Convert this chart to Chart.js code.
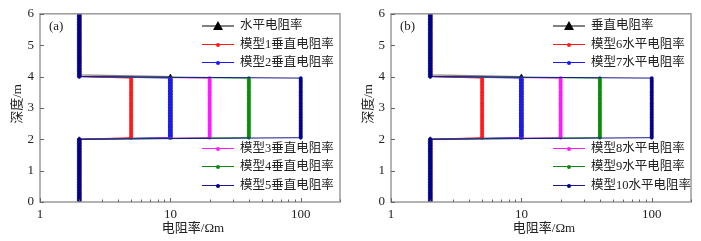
<!DOCTYPE html>
<html>
<head>
<meta charset="utf-8">
<script src="https://cdn.jsdelivr.net/npm/chart.js@4.4.1/dist/chart.umd.min.js"></script>
<style>
    body { margin: 0; background: #fff; }
    #wrap { position: relative; width: 701px; height: 241px; overflow: hidden; background: #fff; }
    .panel { position: absolute; top: 0; width: 350px; height: 241px; }
    .panel canvas { position: absolute; left: 0; top: 0; }
    .txt { position: absolute; font-family: "Liberation Serif", "Noto Sans CJK SC", serif; color: #222; white-space: nowrap; line-height: 1; }
    .leg { position: absolute; height: 14px; }
    .leg .ln { position: absolute; left: 0; top: 7px; width: 32px; height: 0; }
    .leg .mk { position: absolute; }
    .leg .lt { position: absolute; left: 38px; top: 0; font-size: 12.5px; }
</style>
</head>
<body>
<div id="wrap">
    <div class="panel" id="pa"><canvas id="chartA" width="350" height="241"></canvas></div>
    <div class="panel" id="pb" style="left:351px"><canvas id="chartB" width="350" height="241"></canvas></div>
</div>
<script>
// depth samples of the layered profiles (m)
const depths = [
    0, 0.05, 0.1, 0.15, 0.2, 0.25, 0.3, 0.35, 0.4, 0.45, 0.5, 0.55, 0.6, 0.65, 0.7, 0.75, 0.8, 0.85, 0.9, 0.95,
    1, 1.05, 1.1, 1.15, 1.2, 1.25, 1.3, 1.35, 1.4, 1.45, 1.5, 1.55, 1.6, 1.65, 1.7, 1.75, 1.8, 1.85, 1.9, 1.95,
    2, 2.05, 2.1, 2.15, 2.2, 2.25, 2.3, 2.35, 2.4, 2.45, 2.5, 2.55, 2.6, 2.65, 2.7, 2.75, 2.8, 2.85, 2.9, 2.95,
    3, 3.05, 3.1, 3.15, 3.2, 3.25, 3.3, 3.35, 3.4, 3.45, 3.5, 3.55, 3.6, 3.65, 3.7, 3.75, 3.8, 3.85, 3.9, 3.95,
    4, 4.05, 4.1, 4.15, 4.2, 4.25, 4.3, 4.35, 4.4, 4.45, 4.5, 4.55, 4.6, 4.65, 4.7, 4.75, 4.8, 4.85, 4.9, 4.95,
    5, 5.05, 5.1, 5.15, 5.2, 5.25, 5.3, 5.35, 5.4, 5.45, 5.5, 5.55, 5.6, 5.65, 5.7, 5.75, 5.8, 5.85, 5.9, 5.95, 6
];
const hostRes = 2;                       // resistivity above and below the middle layer
const refRes = 10;                       // reference curve, middle layer
const modelRes = [5, 10, 20, 40, 100];   // models, middle layer
const refMid = [2.05, 4.0];              // middle layer extent, reference curve
const modelMid = [2.05, 3.95];           // middle layer extent, models
const xTicks = [1, 10, 100];
const xMinor = [2, 3, 4, 5, 6, 7, 8, 9, 20, 30, 40, 50, 60, 70, 80, 90, 200];
const yTicks = [0, 1, 2, 3, 4, 5, 6];
const labelsA = ["水平电阻率", "模型1垂直电阻率", "模型2垂直电阻率", "模型3垂直电阻率", "模型4垂直电阻率", "模型5垂直电阻率"];
const labelsB = ["垂直电阻率", "模型6水平电阻率", "模型7水平电阻率", "模型8水平电阻率", "模型9水平电阻率", "模型10水平电阻率"];
const colors = ["#808080", "#ff1a1a", "#1a1aff", "#ff1aff", "#0d8a0d", "#1a1a8b"];
const markColors = ["#000000", "#ff1a1a", "#1a1aff", "#ff1aff", "#0d8a0d", "#00008b"];

function profile(res, mid) {
    return depths.map(d => ({ x: (d >= mid[0] - 1e-9 && d <= mid[1] + 1e-9) ? res : hostRes, y: d }));
}

const framePlugin = {
    id: "frame",
    afterDraw(chart) {
        let ctx = chart.ctx;
        let a = chart.chartArea;
        let xs = chart.scales.x, ys = chart.scales.y;
        ctx.save();
        ctx.strokeStyle = "#9a9a9a";
        ctx.lineWidth = 1.5;
        ctx.strokeRect(a.left, a.top, a.right - a.left, a.bottom - a.top);
        ctx.strokeStyle = "#666";
        ctx.lineWidth = 1;
        ctx.beginPath();
        yTicks.forEach(v => {
            let p = Math.round(ys.getPixelForValue(v)) + 0.5;
            ctx.moveTo(a.left, p); ctx.lineTo(a.left + 4, p);
        });
        xTicks.forEach(v => {
            let p = Math.round(xs.getPixelForValue(v)) + 0.5;
            ctx.moveTo(p, a.bottom); ctx.lineTo(p, a.bottom - 4);
        });
        xMinor.forEach(v => {
            let p = Math.round(xs.getPixelForValue(v)) + 0.5;
            ctx.moveTo(p, a.bottom); ctx.lineTo(p, a.bottom - 2.5);
        });
        ctx.stroke();
        ctx.restore();
    }
};

function makeChart(id) {
    let datasets = [{
        data: profile(refRes, refMid),
        borderColor: colors[0],
        borderWidth: 1.2,
        pointStyle: "triangle",
        pointRadius: 2.6,
        pointBackgroundColor: "#000",
        pointBorderColor: "#000",
        pointBorderWidth: 0.5,
        order: 6
    }];
    modelRes.forEach((r, i) => {
        datasets.push({
            data: profile(r, modelMid),
            borderColor: colors[i + 1],
            borderWidth: 1,
            pointRadius: 1.7,
            pointBackgroundColor: markColors[i + 1],
            pointBorderColor: markColors[i + 1],
            pointBorderWidth: 0.4,
            order: 5 - i
        });
    });
    let tickFont = { family: "Liberation Serif", size: 13 };
    return new Chart(document.getElementById(id), {
        type: "scatter",
        data: { datasets: datasets },
        options: {
            responsive: false,
            animation: false,
            showLine: true,
            devicePixelRatio: 1,
            layout: { padding: { left: 0, right: 10, top: 12, bottom: 0 } },
            plugins: { legend: { display: false }, tooltip: { enabled: false } },
            scales: {
                x: {
                    type: "logarithmic", min: 1, max: 200,
                    afterBuildTicks: s => { s.ticks = xTicks.map(v => ({ value: v })); },
                    afterFit: s => { s.height = 39; },
                    ticks: { font: tickFont, color: "#222", padding: 5, autoSkip: false, maxRotation: 0, callback: v => String(v) },
                    grid: { display: false, drawTicks: false },
                    border: { display: false }
                },
                y: {
                    type: "linear", min: 0, max: 6,
                    afterBuildTicks: s => { s.ticks = yTicks.map(v => ({ value: v })); },
                    afterFit: s => { s.width = 40; },
                    ticks: { font: tickFont, color: "#222", padding: 6, callback: v => String(v) },
                    grid: { display: false, drawTicks: false },
                    border: { display: false }
                }
            }
        },
        plugins: [framePlugin]
    });
}

function addText(panel, text, x, y, size, extra) {
    let d = document.createElement("div");
    d.className = "txt";
    d.textContent = text;
    d.style.left = x + "px";
    d.style.top = y + "px";
    d.style.fontSize = size + "px";
    if (extra) d.style.transform = extra;
    panel.appendChild(d);
    return d;
}

function addLegend(panel, labels, rows) {
    rows.forEach(r => {
        let i = r.idx;
        let item = document.createElement("div");
        item.className = "leg";
        item.style.left = "202px";
        item.style.top = (r.y - 7) + "px";
        let ln = document.createElement("div");
        ln.className = "ln";
        ln.style.borderTop = (i === 0 ? 2 : 1.5) + "px solid " + colors[i];
        ln.style.marginTop = (i === 0 ? -1 : -0.75) + "px";
        item.appendChild(ln);
        let mk = document.createElement("div");
        mk.className = "mk";
        if (i === 0) {
            mk.style.left = "11px"; mk.style.top = "2px";
            mk.style.width = "0"; mk.style.height = "0";
            mk.style.borderLeft = "5px solid transparent";
            mk.style.borderRight = "5px solid transparent";
            mk.style.borderBottom = "9px solid #000";
        } else {
            mk.style.left = "14px"; mk.style.top = "5px";
            mk.style.width = "4px"; mk.style.height = "4px";
            mk.style.borderRadius = "50%";
            mk.style.background = markColors[i];
        }
        item.appendChild(mk);
        let lt = document.createElement("div");
        lt.className = "txt lt";
        lt.textContent = labels[i];
        item.appendChild(lt);
        panel.appendChild(item);
    });
}

const legendRows = [
    { idx: 0, y: 26 }, { idx: 1, y: 44.5 }, { idx: 2, y: 63 },
    { idx: 3, y: 148.5 }, { idx: 4, y: 167 }, { idx: 5, y: 186 }
];

[["pa", "chartA", labelsA, "(a)"], ["pb", "chartB", labelsB, "(b)"]].forEach(p => {
    let panel = document.getElementById(p[0]);
    makeChart(p[1]);
    addText(panel, p[3], 49, 19, 13);
    addText(panel, "电阻率/Ωm", 193, 221, 13, "translateX(-50%)");
    addText(panel, "深度/m", 16, 104, 13, "translate(-50%,-50%) rotate(-90deg)");
    addLegend(panel, p[2], legendRows);
});
</script>
</body>
</html>
